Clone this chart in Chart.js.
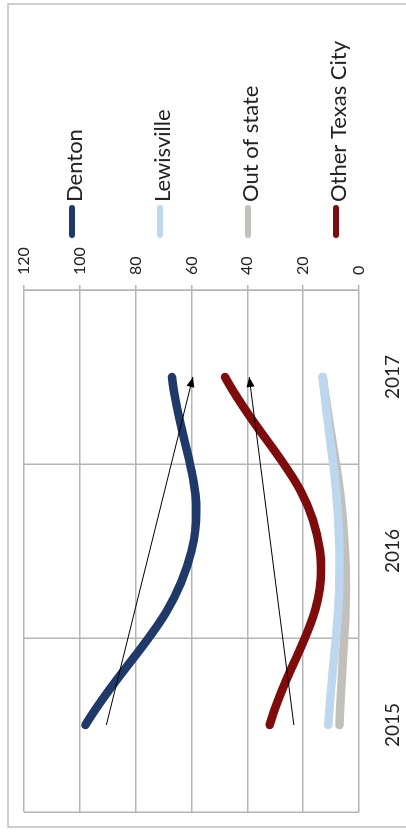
<!DOCTYPE html>
<html>
<head>
<meta charset="utf-8">
<script src="https://cdn.jsdelivr.net/npm/chart.js@4"></script>
<style>
  html, body { margin: 0; padding: 0; background: #fff; overflow: hidden; }
  #wrap { position: relative; width: 406px; height: 833px; }
  /* the chart is drawn landscape, then turned a quarter left */
  #canvas { position: absolute; left: 0; top: 0; transform-origin: 0 0;
            transform: translate(0, 833px) rotate(-90deg); }
</style>
</head>
<body>
<div id="wrap"><canvas id="canvas" width="833" height="406"></canvas></div>
<script>
var years = ["2015", "2016", "2017"];
var denton = [98, 60, 67];
var lewisville = [11, 7, 13];
var outOfState = [7, 5, 13];
var otherTexas = [32, 14, 48];
var yTicks = [0, 20, 40, 60, 80, 100, 120];

var FONT = "Lato, 'Open Sans', sans-serif";

// least squares line through a series, one value per category
function trend(values) {
    var n = values.length, sx = 0, sy = 0, sxy = 0, sxx = 0;
    values.forEach(function (v, i) {
        sx += i; sy += v; sxy += i * v; sxx += i * i;
    });
    var slope = (n * sxy - sx * sy) / (n * sxx - sx * sx);
    var icpt = (sy - slope * sx) / n;
    return values.map(function (v, i) { return icpt + slope * i; });
}

function series(label, data, color) {
    return {
        label: label,
        data: data,
        borderColor: color,
        backgroundColor: color,
        borderWidth: 8.5,
        borderCapStyle: "round",
        borderJoinStyle: "round",
        pointRadius: 0,
        tension: 0.4,
        fill: false,
        order: 1
    };
}

function trendLine(data) {
    return {
        label: "trend",
        data: trend(data),
        borderColor: "#000",
        borderWidth: 1,
        pointRadius: 0,
        tension: 0,
        fill: false,
        arrow: true,
        order: 0
    };
}

var framePlugin = {
    id: "frame",
    beforeDraw: function (chart) {
        var ctx = chart.ctx;
        ctx.save();
        ctx.fillStyle = "#fff";
        ctx.fillRect(0, 0, chart.width, chart.height);
        ctx.strokeStyle = "#bfbfbf";
        ctx.lineWidth = 1.5;
        ctx.strokeRect(6, 8, 823, 440);
        ctx.restore();
    }
};

var arrowPlugin = {
    id: "arrows",
    afterDatasetsDraw: function (chart) {
        var ctx = chart.ctx;
        chart.data.datasets.forEach(function (ds, i) {
            if (!ds.arrow) return;
            var pts = chart.getDatasetMeta(i).data;
            var a = pts[pts.length - 2], b = pts[pts.length - 1];
            var ang = Math.atan2(b.y - a.y, b.x - a.x);
            var len = 10, half = 4;
            ctx.save();
            ctx.translate(b.x, b.y);
            ctx.rotate(ang);
            ctx.beginPath();
            ctx.moveTo(0, 0);
            ctx.lineTo(-len, -half);
            ctx.lineTo(-len, half);
            ctx.closePath();
            ctx.fillStyle = "#000";
            ctx.fill();
            ctx.restore();
        });
    }
};

var legendPlugin = {
    id: "sideLegend",
    afterDraw: function (chart) {
        var ctx = chart.ctx;
        var items = chart.data.datasets.filter(function (ds) { return !ds.arrow; });
        ctx.save();
        items.forEach(function (ds, i) {
            var y = 72 + i * 88;
            ctx.strokeStyle = ds.borderColor;
            ctx.lineWidth = 6;
            ctx.lineCap = "round";
            ctx.beginPath();
            ctx.moveTo(598, y);
            ctx.lineTo(625, y);
            ctx.stroke();
            ctx.fillStyle = "#222";
            ctx.font = "22px " + FONT;
            ctx.textBaseline = "alphabetic";
            ctx.fillText(ds.label, 631, y + 10);
        });
        ctx.restore();
    }
};

var config = {
    type: "line",
    data: {
        labels: years,
        datasets: [
            trendLine(denton),
            trendLine(otherTexas),
            series("Denton", denton, "#1f3a68"),
            series("Lewisville", lewisville, "#bdd7ee"),
            series("Out of state", outOfState, "#c3bfbb"),
            series("Other Texas City", otherTexas, "#7f0c0c")
        ]
    },
    options: {
        responsive: false,
        animation: false,
        layout: { padding: { left: 21, top: 24, right: 238, bottom: 0 } },
        plugins: {
            legend: { display: false },
            tooltip: { enabled: false }
        },
        scales: {
            x: {
                offset: true,
                grid: { offset: true, color: "#b4b4b4", lineWidth: 1.5, drawTicks: false },
                border: { display: false },
                ticks: {
                    padding: 22,
                    color: "#222",
                    font: { family: FONT, size: 19 },
                    maxRotation: 0
                },
                afterFit: function (s) { s.height = 47; }
            },
            y: {
                position: "right",
                min: 0,
                max: 120,
                afterBuildTicks: function (s) {
                    s.ticks = yTicks.map(function (v) { return { value: v }; });
                },
                grid: { color: "#b4b4b4", lineWidth: 1.5, tickLength: 5 },
                border: { color: "#b4b4b4", width: 1.5 },
                ticks: {
                    padding: 10,
                    color: "#222",
                    font: { family: FONT, size: 16 }
                },
                afterFit: function (s) { s.width = 52; }
            }
        }
    },
    plugins: [framePlugin, arrowPlugin, legendPlugin]
};

window.onload = function () {
    var ctx = document.getElementById("canvas").getContext("2d");
    window.myLine = new Chart(ctx, config);
};
</script>
</body>
</html>
